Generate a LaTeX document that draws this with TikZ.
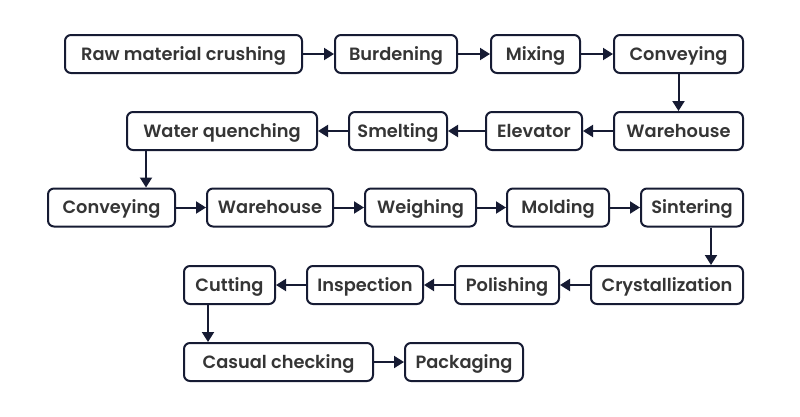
\documentclass[tikz,border=0pt]{standalone}
\usepackage{fontspec}
\setmainfont{Poppins}[UprightFont={* SemiBold}]
\usetikzlibrary{arrows.meta}
\definecolor{navy}{HTML}{161B33}
\definecolor{txt}{HTML}{353535}
\begin{document}
\begin{tikzpicture}[x=1pt,y=-1pt]
			\tikzstyle{box}=[draw=navy, line width=2pt, rounded corners=6pt, minimum height=38pt, inner sep=0pt, text=txt, font=\fontsize{17.8}{20}\selectfont, text height=13.5pt, text depth=1pt]
			\tikzstyle{arr}=[draw=navy, line width=2pt, -{Triangle[length=10pt,width=12pt]}]
			\useasboundingbox (0,0) rectangle (800,416);
			\node [box, minimum width=237pt] (raw) at (183.5,54) {Raw material crushing};
			\node [box, minimum width=122pt] (burd) at (396,54) {Burdening};
			\node [box, minimum width=89pt] (mix) at (535.5,54) {Mixing};
			\node [box, minimum width=129pt] (convA) at (678.5,54) {Conveying};
			\node [box, minimum width=190pt] (wq) at (222,131) {Water quenching};
			\node [box, minimum width=98pt] (smelt) at (398,131) {Smelting};
			\node [box, minimum width=96pt] (elev) at (534,131) {Elevator};
			\node [box, minimum width=129pt] (wareA) at (678.5,131) {Warehouse};
			\node [box, minimum width=127pt] (convB) at (111.5,207.5) {Conveying};
			\node [box, minimum width=126pt] (wareB) at (270,207.5) {Warehouse};
			\node [box, minimum width=111pt] (weigh) at (420.5,207.5) {Weighing};
			\node [box, minimum width=102pt] (mold) at (558,207.5) {Molding};
			\node [box, minimum width=102pt] (sint) at (692,207.5) {Sintering};
			\node [box, minimum width=91pt] (cut) at (229.5,285) {Cutting};
			\node [box, minimum width=116pt] (insp) at (365,285) {Inspection};
			\node [box, minimum width=104pt] (pol) at (507,285) {Polishing};
			\node [box, minimum width=152pt] (cryst) at (667,285) {Crystallization};
			\node [box, minimum width=189pt] (cas) at (278.5,362) {Casual checking};
			\node [box, minimum width=118pt] (pack) at (464,362) {Packaging};
			\draw [arr] (raw) -- (burd);
			\draw [arr] (burd) -- (mix);
			\draw [arr] (mix) -- (convA);
			\draw [arr] (convA) -- (wareA);
			\draw [arr] (wareA) -- (elev);
			\draw [arr] (elev) -- (smelt);
			\draw [arr] (smelt) -- (wq);
			\draw [arr] ([xshift=20pt]wq.south west) -- ([xshift=20pt]wq.south west |- convB.north);
			\draw [arr] (convB) -- (wareB);
			\draw [arr] (wareB) -- (weigh);
			\draw [arr] (weigh) -- (mold);
			\draw [arr] (mold) -- (sint);
			\draw [arr] ([xshift=-33pt]sint.south east) -- ([xshift=-33pt]sint.south east |- cryst.north);
			\draw [arr] (cryst) -- (pol);
			\draw [arr] (pol) -- (insp);
			\draw [arr] (insp) -- (cut);
			\draw [arr] ([xshift=25pt]cut.south west) -- ([xshift=25pt]cut.south west |- cas.north);
			\draw [arr] (cas) -- (pack);
		\end{tikzpicture}
\end{document}
